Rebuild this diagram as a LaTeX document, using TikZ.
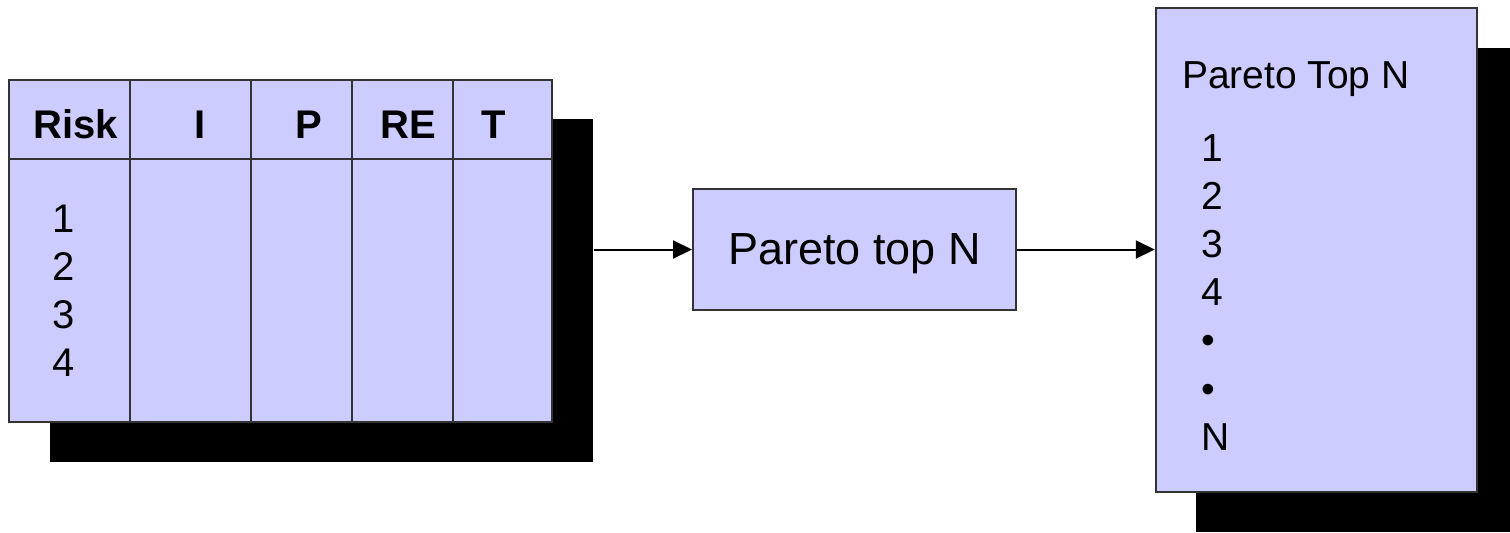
\documentclass[tikz,border=0pt]{standalone}
\usepackage{fontspec}
\setmainfont{Liberation Sans}
\usetikzlibrary{arrows.meta}
\definecolor{lavender}{HTML}{CCCCFF}

\begin{document}
\begin{tikzpicture}[x=0.5pt,y=-0.5pt,>={Triangle[length=9.5pt,width=9pt]},line width=1pt,
  box/.style={draw=black!80,fill=lavender,inner sep=0pt},
  shade box/.style={fill=black,inner sep=0pt},
  hdr/.style={font=\bfseries\fontsize{20}{24}\selectfont,anchor=base,inner sep=0pt},
  item/.style={font=\fontsize{20}{24}\selectfont,anchor=base west,inner sep=0pt}]
  \useasboundingbox (0,0) rectangle (1510,532);

  % risk table
  \node[shade box,minimum width=271.75pt,minimum height=171.5pt] (tshade) at (321.25,290.5) {};
  \node[box,minimum width=271.5pt,minimum height=170.75pt] (table) at (280.5,250.75) {};
  \draw[black!80] (table.west |- 0,159) -- (table.east |- 0,159);
  \foreach \cx in {130,251,352,453}
    \draw[black!80] (table.north -| \cx,0) -- (table.south -| \cx,0);
  \node[hdr] (hrisk) at (76,138) {Risk};
  \node[hdr] (hi) at (200,138) {I};
  \node[hdr] (hp) at (309,138) {P};
  \node[hdr] (hre) at (408,138) {RE};
  \node[hdr] (ht) at (494,138) {T};
  \foreach \n [count=\k from 0] in {1,2,3,4}
    \node[item] (r\n) at (52,232+48*\k) {\n};

  % middle step
  \node[box,minimum width=161.5pt,minimum height=60.5pt,text depth=0pt,
    font=\fontsize{22.5}{27}\selectfont] (pareto) at (854.5,249.5) {Pareto top N};

  % result list
  \node[shade box,minimum width=160.5pt,minimum height=241.75pt] (lshade) at (1356.25,290) {};
  \node[box,minimum width=160.5pt,minimum height=241.75pt] (list) at (1316.25,250) {};
  \node[item,font=\fontsize{19.5}{23}\selectfont] (ltitle) at (1181,88) {Pareto Top N};
  \foreach \n [count=\k from 0] in {1,2,3,4,\textbullet,\textbullet,N}
    \node[item,font=\fontsize{19.5}{23}\selectfont] (l\k) at (1200,161+48.2*\k) {\n};

  \draw[->] (tshade.east |- pareto.west) -- (pareto.west);
  \draw[->] (pareto.east) -- (pareto.east -| list.west);
\end{tikzpicture}
\end{document}
